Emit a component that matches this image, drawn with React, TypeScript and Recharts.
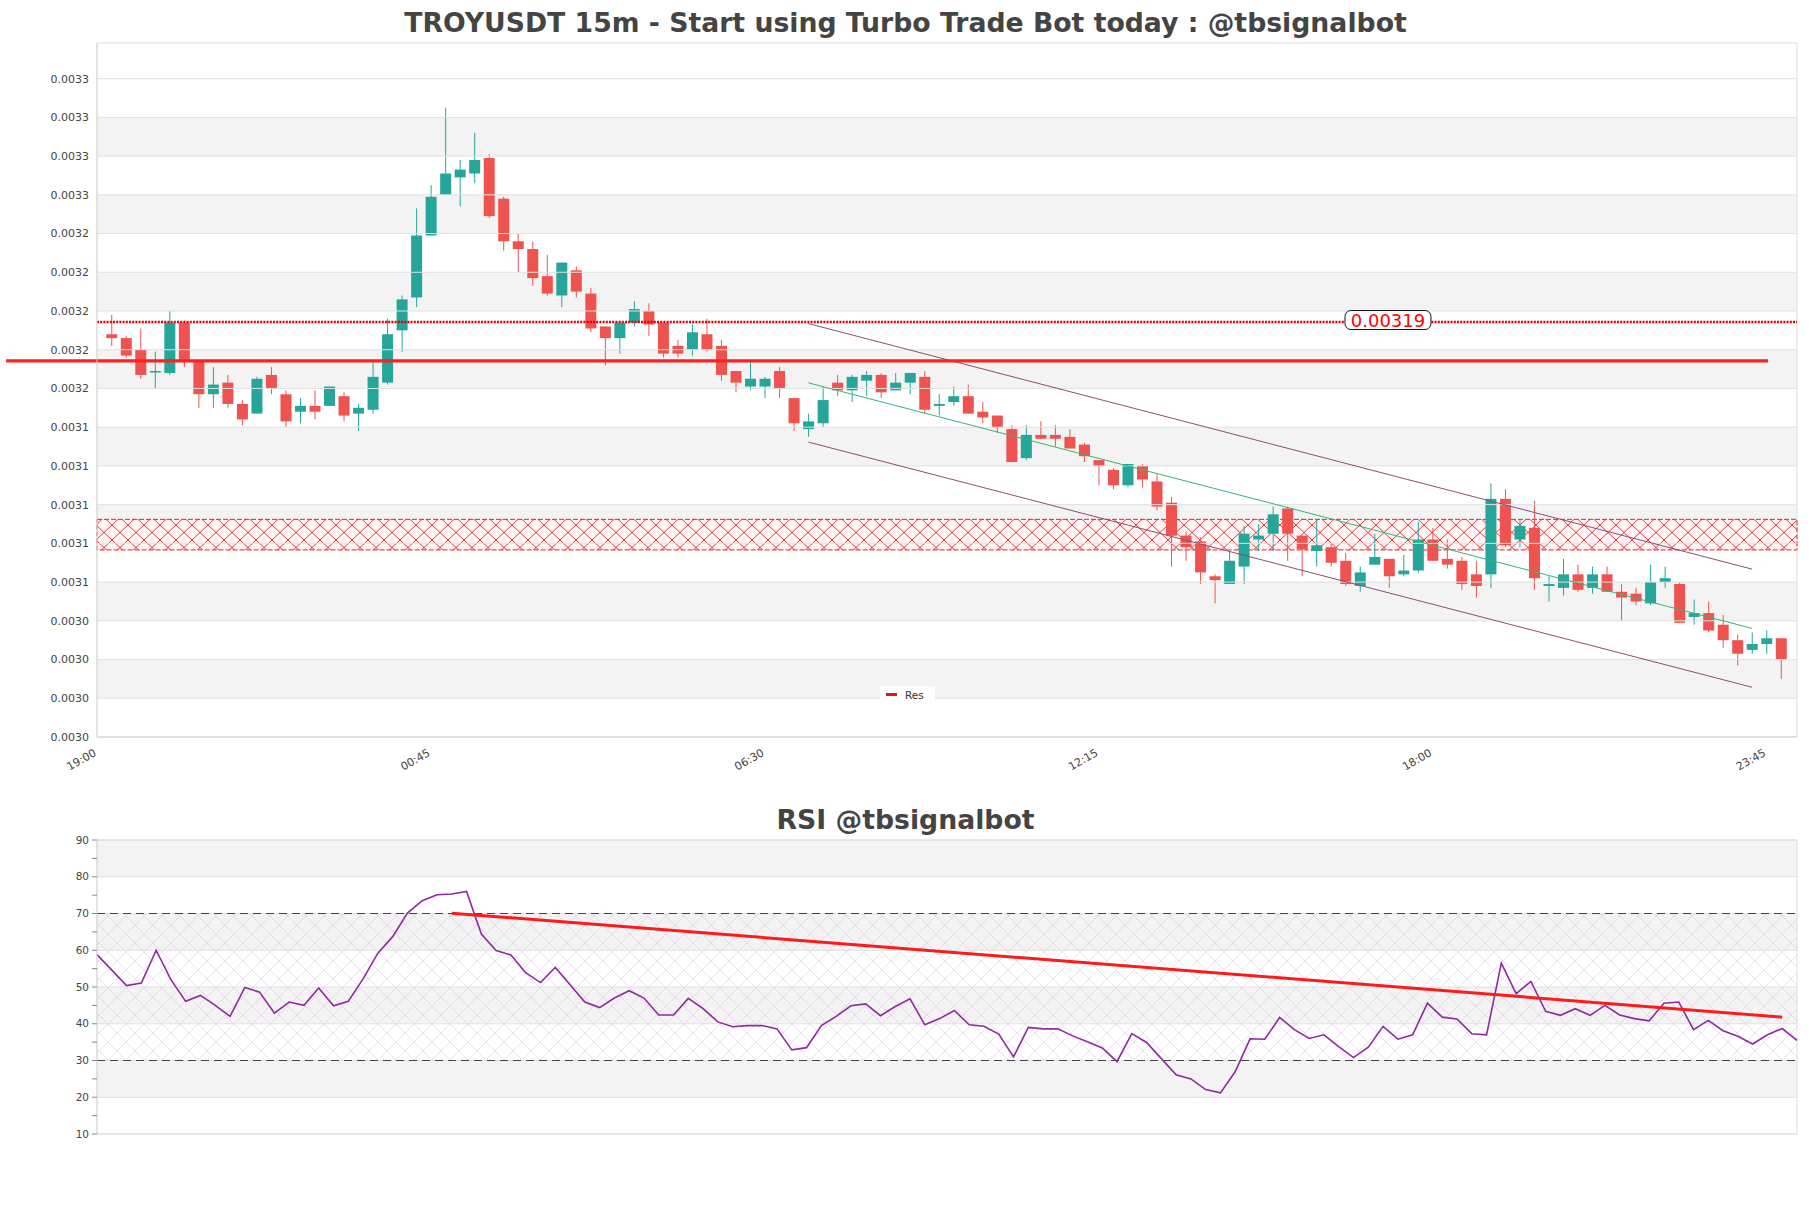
import React from 'react';
import { ComposedChart, Bar, Line, XAxis, YAxis, ReferenceLine, ReferenceArea } from 'recharts';

const FONT = "'DejaVu Sans', sans-serif";
const GREEN = '#26a69a';
const RED = '#ef5350';

// 15m candles, 19:15 -> 00:00 (index 0 = 19:00)
const opens = [
  0.003188, 0.003186, 0.00318, 0.003169, 0.003168, 0.003194, 0.003174, 0.003157, 0.003163, 0.003152,
  0.003147, 0.003167, 0.003157, 0.003148, 0.003151, 0.003151, 0.003156, 0.003147, 0.003149, 0.003163,
  0.00319, 0.003207, 0.003239, 0.00326, 0.003269, 0.003271, 0.003279, 0.003258, 0.003236, 0.003232,
  0.003218, 0.003208, 0.003221, 0.003209, 0.003192, 0.003186, 0.003194, 0.0032, 0.003194, 0.003182,
  0.00318, 0.003188, 0.003182, 0.003169, 0.003161, 0.003161, 0.003169, 0.003155, 0.003139, 0.003142,
  0.003163, 0.003159, 0.003164, 0.003167, 0.003159, 0.003163, 0.003166, 0.003151, 0.003153, 0.003156,
  0.003148, 0.003146, 0.003139, 0.003124, 0.003136, 0.003136, 0.003135, 0.003131, 0.003123, 0.003118,
  0.00311, 0.00312, 0.003112, 0.003101, 0.003084, 0.003081, 0.003063, 0.003059, 0.003068, 0.003082,
  0.003085, 0.003098, 0.003084, 0.003076, 0.003078, 0.003071, 0.003058, 0.003069, 0.003072, 0.003064,
  0.003066, 0.003082, 0.003072, 0.003071, 0.003064, 0.003064, 0.003103, 0.003082, 0.003088, 0.003058,
  0.003057, 0.003064, 0.003057, 0.003064, 0.003055, 0.003054, 0.003049, 0.00306, 0.003059, 0.003042,
  0.003044, 0.003038, 0.00303, 0.003025, 0.003028, 0.003031,
];
const highs = [
  0.003198, 0.003187, 0.003191, 0.003179, 0.0032, 0.003195, 0.003175, 0.003171, 0.003167, 0.003154,
  0.003166, 0.003171, 0.003159, 0.003155, 0.003159, 0.003161, 0.003158, 0.003152, 0.003174, 0.003196,
  0.003208, 0.003253, 0.003265, 0.003305, 0.003278, 0.003292, 0.003281, 0.003259, 0.00324, 0.003236,
  0.003229, 0.003225, 0.003223, 0.003212, 0.003192, 0.003195, 0.003205, 0.003204, 0.003194, 0.003185,
  0.003193, 0.003196, 0.003185, 0.003169, 0.003175, 0.003166, 0.003171, 0.003155, 0.003147, 0.003161,
  0.003167, 0.003167, 0.003169, 0.003168, 0.003168, 0.003168, 0.003169, 0.003157, 0.003161, 0.003162,
  0.003153, 0.003146, 0.003141, 0.003141, 0.003143, 0.003141, 0.003139, 0.003132, 0.003123, 0.003119,
  0.003121, 0.003121, 0.003116, 0.003104, 0.003086, 0.003083, 0.003064, 0.003076, 0.003089, 0.00309,
  0.003099, 0.003099, 0.003084, 0.003092, 0.00308, 0.003075, 0.003068, 0.003085, 0.003072, 0.003074,
  0.003091, 0.003088, 0.003082, 0.003073, 0.003071, 0.003111, 0.003108, 0.003092, 0.003102, 0.003063,
  0.003072, 0.003069, 0.003068, 0.003068, 0.003059, 0.003057, 0.003069, 0.003068, 0.00306, 0.003051,
  0.00305, 0.003043, 0.003033, 0.003034, 0.003035, 0.003031,
];
const lows = [
  0.003182, 0.003176, 0.003165, 0.00316, 0.003167, 0.003171, 0.00315, 0.00315, 0.00315, 0.003141,
  0.003147, 0.003157, 0.00314, 0.003142, 0.003144, 0.003151, 0.003143, 0.003138, 0.003147, 0.003162,
  0.003179, 0.003202, 0.003239, 0.00326, 0.003254, 0.003266, 0.003248, 0.003231, 0.00322, 0.003213,
  0.003208, 0.003202, 0.003207, 0.003189, 0.003172, 0.003178, 0.003192, 0.003187, 0.003176, 0.003176,
  0.003177, 0.003179, 0.003164, 0.003158, 0.003159, 0.003155, 0.003155, 0.003138, 0.003135, 0.00314,
  0.003156, 0.003153, 0.003156, 0.003155, 0.003159, 0.003157, 0.003147, 0.003146, 0.003151, 0.003147,
  0.003142, 0.003137, 0.003122, 0.003123, 0.003134, 0.00313, 0.003129, 0.003122, 0.00311, 0.003108,
  0.003109, 0.003109, 0.003097, 0.003068, 0.003071, 0.003059, 0.003049, 0.003059, 0.003059, 0.003076,
  0.003076, 0.003071, 0.003063, 0.003068, 0.003068, 0.003058, 0.003055, 0.003069, 0.003057, 0.003063,
  0.003065, 0.003071, 0.003067, 0.003056, 0.003052, 0.003057, 0.003078, 0.003078, 0.003056, 0.00305,
  0.003053, 0.003055, 0.003054, 0.003055, 0.00304, 0.003048, 0.003048, 0.003057, 0.003039, 0.003038,
  0.003034, 0.003026, 0.003017, 0.003023, 0.003023, 0.00301,
];
const closes = [
  0.003186, 0.003177, 0.003167, 0.003169, 0.003194, 0.003174, 0.003157, 0.003162, 0.003152, 0.003144,
  0.003165, 0.00316, 0.003143, 0.003151, 0.003148, 0.003161, 0.003146, 0.00315, 0.003166, 0.003188,
  0.003206, 0.003239, 0.003259, 0.003271, 0.003273, 0.003278, 0.003249, 0.003236, 0.003232, 0.003217,
  0.003209, 0.003225, 0.00321, 0.003191, 0.003186, 0.003194, 0.003201, 0.003193, 0.003178, 0.003178,
  0.003189, 0.00318, 0.003167, 0.003163, 0.003165, 0.003165, 0.00316, 0.003142, 0.003143, 0.003154,
  0.003159, 0.003166, 0.003167, 0.003158, 0.003163, 0.003168, 0.003149, 0.003152, 0.003156, 0.003147,
  0.003145, 0.00314, 0.003122, 0.003136, 0.003134, 0.003134, 0.003129, 0.003125, 0.00312, 0.00311,
  0.003121, 0.003113, 0.003099, 0.003084, 0.003078, 0.003065, 0.003061, 0.003071, 0.003085, 0.003084,
  0.003095, 0.003085, 0.003077, 0.003079, 0.00307, 0.003059, 0.003065, 0.003073, 0.003063, 0.003066,
  0.003082, 0.003071, 0.003069, 0.003059, 0.003058, 0.003103, 0.003079, 0.003089, 0.003062, 0.003059,
  0.003064, 0.003056, 0.003064, 0.003055, 0.003052, 0.00305, 0.00306, 0.003062, 0.003039, 0.003044,
  0.003035, 0.00303, 0.003023, 0.003028, 0.003031, 0.00302,
];

const rsiValues = [
  58.8, 54.6, 50.4, 51.1, 60.0, 52.0, 46.1, 47.7, 45.0, 42.0,
  49.9, 48.6, 42.9, 45.9, 45.0, 49.7, 44.9, 46.1, 52.2, 59.2,
  63.7, 70.1, 73.5, 75.1, 75.3, 76.0, 64.4, 59.9, 58.7, 53.9,
  51.2, 55.3, 50.6, 45.9, 44.4, 47.0, 49.0, 47.0, 42.4, 42.4,
  46.9, 44.1, 40.5, 39.2, 39.5, 39.5, 38.6, 32.9, 33.5, 39.5,
  42.0, 44.9, 45.4, 42.2, 44.7, 46.8, 39.7, 41.4, 43.6, 39.7,
  39.3, 37.2, 31.0, 39.0, 38.6, 38.6, 36.7, 35.1, 33.4, 29.7,
  37.3, 34.9, 30.5, 26.1, 25.0, 22.1, 21.2, 27.0, 35.9, 35.8,
  41.7, 38.4, 36.0, 37.0, 33.8, 30.8, 33.6, 39.3, 35.8, 37.0,
  45.6, 41.8, 41.3, 37.3, 37.0, 56.5, 48.2, 51.5, 43.4, 42.3,
  44.1, 42.3, 45.0, 42.4, 41.4, 40.8, 45.6, 45.9, 38.4, 40.9,
  38.1, 36.6, 34.5, 37.0, 38.7, 35.5,
];

const timeTicks = [0, 23, 46, 69, 92, 115];
const timeLabels = ['19:00', '00:45', '06:30', '12:15', '18:00', '23:45'];
const priceTicks = [
  0.00298, 0.003, 0.00302, 0.00304, 0.00306, 0.00308, 0.0031, 0.00312, 0.00314,
  0.00316, 0.00318, 0.0032, 0.00322, 0.00324, 0.00326, 0.00328, 0.0033, 0.00332,
];
const rsiTicks = [10, 15, 20, 25, 30, 35, 40, 45, 50, 55, 60, 65, 70, 75, 80, 85, 90];

const resLevel = 0.0031742; // "Res" solid line
const tagLevel = 0.0031943; // dotted line with 0.00319 tag
const zoneLow = 0.0030766;
const zoneHigh = 0.0030924;
const channelUpper = [{ x: 49, y: 0.0031935 }, { x: 114, y: 0.0030667 }];
const channelMid = [{ x: 49, y: 0.0031629 }, { x: 114, y: 0.0030361 }];
const channelLower = [{ x: 49, y: 0.0031323 }, { x: 114, y: 0.0030057 }];
const rsiTrend = [{ x: 25, y: 70.1 }, { x: 115, y: 41.8 }];

const candles = opens.map((open, k) => ({
  i: k + 1,
  open,
  high: highs[k],
  low: lows[k],
  close: closes[k],
}));
const rsiRows = rsiValues.map((rsi, k) => ({ i: k + 1, rsi }));

const PRICE_MIN = 0.00298;
const PRICE_MAX = 0.0033384;
const X_MAX = 117.1;

const Candle = (props: any) => {
  const { x, y, width, height, payload } = props;
  const { open, close, high, low } = payload;
  const top = Math.min(y, y + height);
  const h = Math.abs(height);
  const pix = (v: number) => top + ((high - v) / (high - low)) * h;
  const color = close >= open ? GREEN : RED;
  const bodyTop = pix(Math.max(open, close));
  const bodyBot = pix(Math.min(open, close));
  const cx = x + width / 2;
  return (
    <g>
      <line x1={cx} x2={cx} y1={top} y2={top + h} stroke={color} strokeWidth={1} />
      <rect x={x} y={bodyTop} width={width} height={Math.max(1.5, bodyBot - bodyTop)} fill={color} />
    </g>
  );
};

// rotated time label, its end sits just under the tick
const TimeTick = (props: any) => {
  const { x, y, payload } = props;
  const ax = x;
  const ay = y + 10;
  return (
    <text
      x={ax}
      y={ay}
      transform={`rotate(-30, ${ax}, ${ay})`}
      textAnchor="end"
      fontSize={11}
      fill="#444"
      fontFamily={FONT}
    >
      {timeLabels[timeTicks.indexOf(payload.value)]}
    </text>
  );
};

const PriceTag = (props: any) => {
  const { viewBox } = props;
  const cx = viewBox.x + viewBox.width * 0.7594;
  const cy = viewBox.y - 2;
  return (
    <g>
      <rect x={cx - 43} y={cy - 9.5} width={86} height={19} rx={6} fill="#fff" stroke="#111" strokeWidth={1} />
      <text x={cx} y={cy + 6.5} textAnchor="middle" fill="#ff0000" fontSize={18} fontFamily={FONT}>
        {tagLevel.toFixed(5)}
      </text>
    </g>
  );
};

const titleStyle: React.CSSProperties = {
  position: 'absolute',
  left: 0,
  width: 1811,
  textAlign: 'center',
  fontFamily: FONT,
  fontWeight: 'bold',
  fontSize: 26.7,
  lineHeight: '30px',
  color: '#444',
};

const bands = [0, 1, 2, 3, 4, 5, 6, 7].map((k) => [priceTicks[1 + 2 * k], priceTicks[2 + 2 * k]]);
const rsiBands = [[80, 90], [60, 70], [40, 50], [20, 30]];

const MainChart = () => (
  <ComposedChart width={1811} height={780} data={candles} margin={{ top: 43, right: 14, bottom: 0, left: 0 }}>
    <defs>
      <pattern id="zoneHatch" width={16} height={15} patternUnits="userSpaceOnUse">
        <rect width={16} height={15} fill="#fff3f3" />
        <path d="M0 0 L16 15 M16 0 L0 15" stroke="#e0242a" strokeWidth={0.9} fill="none" />
      </pattern>
    </defs>
    <XAxis
      dataKey="i"
      type="number"
      domain={[0, X_MAX]}
      ticks={timeTicks}
      height={43}
      tick={<TimeTick />}
      tickLine={false}
      axisLine={{ stroke: '#d8d8d8' }}
    />
    <YAxis
      type="number"
      domain={[PRICE_MIN, PRICE_MAX]}
      ticks={priceTicks}
      tickFormatter={(v: number) => v.toFixed(4)}
      width={97}
      tick={{ fontSize: 11, fill: '#444', fontFamily: FONT }}
      tickLine={false}
      axisLine={{ stroke: '#d8d8d8' }}
    />
    {bands.map(([a, b], k) => (
      <ReferenceArea key={'b' + k} y1={a} y2={b} fill="#f3f3f3" fillOpacity={1} stroke="none" />
    ))}
    <ReferenceArea y1={PRICE_MIN} y2={PRICE_MAX} fill="none" stroke="#dddddd" />
    {priceTicks.map((t) => (
      <ReferenceLine key={'g' + t} y={t} stroke="#e0e0e0" strokeWidth={1} />
    ))}
    <ReferenceArea y1={zoneLow} y2={zoneHigh} fill="url(#zoneHatch)" fillOpacity={1} stroke="#e0242a" strokeDasharray="5 2" />
    <Bar dataKey={(d: any) => [d.low, d.high]} barSize={11} shape={Candle} isAnimationActive={false} />
    <ReferenceLine segment={channelUpper} stroke="#8e4d70" strokeWidth={1} />
    <ReferenceLine segment={channelLower} stroke="#8e4d70" strokeWidth={1} />
    <ReferenceLine segment={channelMid} stroke="#3cb371" strokeWidth={1} />
    <ReferenceLine
      segment={[{ x: -6.26, y: resLevel }, { x: 115.1, y: resLevel }]}
      stroke="#ff1f1f"
      strokeWidth={3.2}
      ifOverflow="visible"
    />
    <ReferenceLine
      y={tagLevel}
      stroke="#e00000"
      strokeWidth={2.6}
      strokeDasharray="2 1.2"
      label={(p: any) => <PriceTag {...p} />}
    />
  </ComposedChart>
);

const RsiChart = () => (
  <ComposedChart width={1811} height={400} data={rsiRows} margin={{ top: 50, right: 14, bottom: 56, left: 0 }}>
    <defs>
      <pattern id="rsiHatch" width={18} height={18} patternUnits="userSpaceOnUse">
        <path d="M0 0 L18 18 M18 0 L0 18" stroke="#d3bde0" strokeWidth={0.6} fill="none" opacity={0.75} />
      </pattern>
    </defs>
    <XAxis dataKey="i" type="number" domain={[1, 116]} hide />
    <YAxis
      type="number"
      domain={[10, 90]}
      ticks={rsiTicks}
      tickFormatter={(v: number) => (v % 10 === 0 ? String(v) : '')}
      width={97}
      tickSize={5}
      tickMargin={3}
      tick={{ fontSize: 10.5, fill: '#444', fontFamily: FONT }}
      tickLine={{ stroke: '#888' }}
      axisLine={{ stroke: '#d8d8d8' }}
    />
    {rsiBands.map(([a, b], k) => (
      <ReferenceArea key={'rb' + k} y1={a} y2={b} fill="#f3f3f3" fillOpacity={1} stroke="none" />
    ))}
    <ReferenceArea y1={10} y2={90} fill="none" stroke="#dddddd" />
    {[10, 20, 30, 40, 50, 60, 70, 80, 90].map((t) => (
      <ReferenceLine key={'rg' + t} y={t} stroke="#e0e0e0" strokeWidth={1} />
    ))}
    <ReferenceArea y1={30} y2={70} fill="url(#rsiHatch)" fillOpacity={1} stroke="none" />
    <ReferenceLine y={70} stroke="#444" strokeDasharray="8 5" strokeWidth={1.1} />
    <ReferenceLine y={30} stroke="#444" strokeDasharray="8 5" strokeWidth={1.1} />
    <Line dataKey="rsi" stroke="#8e2a9e" strokeWidth={1.6} dot={false} isAnimationActive={false} />
    <ReferenceLine segment={rsiTrend} stroke="#ff1a1a" strokeWidth={3} />
  </ComposedChart>
);

export default function App() {
  return (
    <div style={{ position: 'absolute', left: 0, top: 0, width: 1811, height: 1208, background: '#fff' }}>
      <div style={{ position: 'absolute', left: 0, top: 0 }}>
        <MainChart />
      </div>
      <div style={{ position: 'absolute', left: 0, top: 790 }}>
        <RsiChart />
      </div>
      <div style={{ ...titleStyle, top: 8 }}>TROYUSDT 15m - Start using Turbo Trade Bot today : @tbsignalbot</div>
      <div style={{ ...titleStyle, top: 805 }}>RSI @tbsignalbot</div>
      <div
        style={{
          position: 'absolute',
          left: 880,
          top: 686,
          width: 55,
          height: 17,
          background: '#fff',
          display: 'flex',
          alignItems: 'center',
          fontFamily: FONT,
          fontSize: 10.5,
          color: '#333',
        }}
      >
        <span style={{ display: 'inline-block', width: 11, height: 3, background: '#e8101a', marginLeft: 6, marginRight: 8 }} />
        Res
      </div>
    </div>
  );
}
